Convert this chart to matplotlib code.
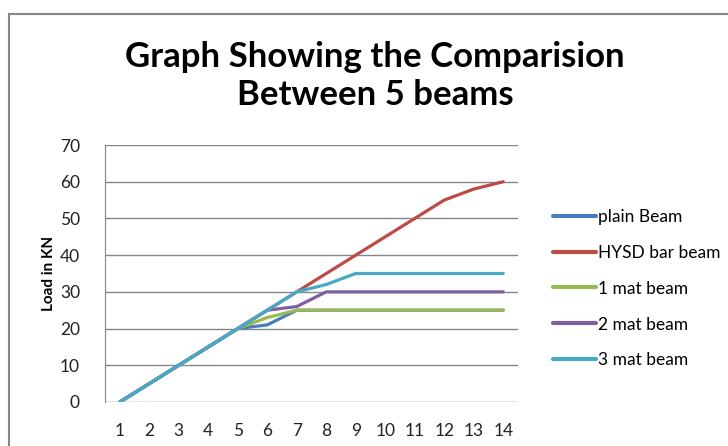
import matplotlib
matplotlib.use("Agg")
import matplotlib.pyplot as plt
from matplotlib.patches import Rectangle

plt.rcParams['font.family'] = ['Lato', 'DejaVu Sans']

# data
points = list(range(1, 15))
plain_beam = [0, 5, 10, 15, 20, 21, 25, 25, 25, 25, 25, 25, 25, 25]
hysd_beam = [0, 5, 10, 15, 20, 25, 30, 35, 40, 45, 50, 55, 58, 60]
mat1_beam = [0, 5, 10, 15, 20, 23, 25, 25, 25, 25, 25, 25, 25, 25]
mat2_beam = [0, 5, 10, 15, 20, 25, 26, 30, 30, 30, 30, 30, 30, 30]
mat3_beam = [0, 5, 10, 15, 20, 25, 30, 32, 35, 35, 35, 35, 35, 35]
series_names = ["plain Beam", "HYSD bar beam", "1 mat beam", "2 mat beam", "3 mat beam"]
colors = ["#4A7EBB", "#BE4B48", "#98B954", "#7D60A0", "#46AAC5"]

fig = plt.figure(figsize=(7.28, 4.46), dpi=100)
W, H = 728, 446

# outer chart border (cropped on right/bottom)
fig.patches.append(Rectangle((8.5 / W, -0.1), 1.2, (H - 13.5) / H + 0.1,
                             transform=fig.transFigure, fill=False,
                             edgecolor="#868686", linewidth=1.5))

ax = fig.add_axes([105 / W, (H - 402) / H, 413 / W, 257 / H])
all_series = [plain_beam, hysd_beam, mat1_beam, mat2_beam, mat3_beam]
for vals, name, c in zip(all_series, series_names, colors):
    ax.plot(points, vals, color=c, linewidth=2.3, label=name, solid_capstyle='round')

ax.set_xlim(0.5, 14.5)
ax.set_ylim(0, 70)
ax.set_yticks(range(0, 71, 10))
ax.set_xticks(points)
ax.yaxis.grid(True, color="#868686", linewidth=1)
ax.set_axisbelow(True)
for s in ["top", "right", "bottom"]:
    ax.spines[s].set_visible(False)
ax.spines["left"].set_color("#868686")
ax.tick_params(length=0, labelsize=12.5, colors="#222222")
ax.tick_params(axis='x', pad=15)
ax.tick_params(axis='y', pad=18)
ax.set_ylabel("Load in KN", fontsize=11, fontweight="bold")
ax.yaxis.set_label_coords(-0.118, 0.5)

fig.text(375 / W, 1 - 76 / H, "Graph Showing the Comparision\nBetween 5 beams",
         ha="center", va="center", fontsize=25, fontweight="bold", linespacing=1.25)

leg = ax.legend(loc="upper left", bbox_to_anchor=(537 / W, 1 - 193 / H),
                bbox_transform=fig.transFigure, frameon=False, fontsize=12.5,
                handlelength=2.5, handletextpad=0.1, labelspacing=1.15)
for ln in leg.get_lines():
    ln.set_linewidth(3)

fig.savefig("out.png", dpi=100)
